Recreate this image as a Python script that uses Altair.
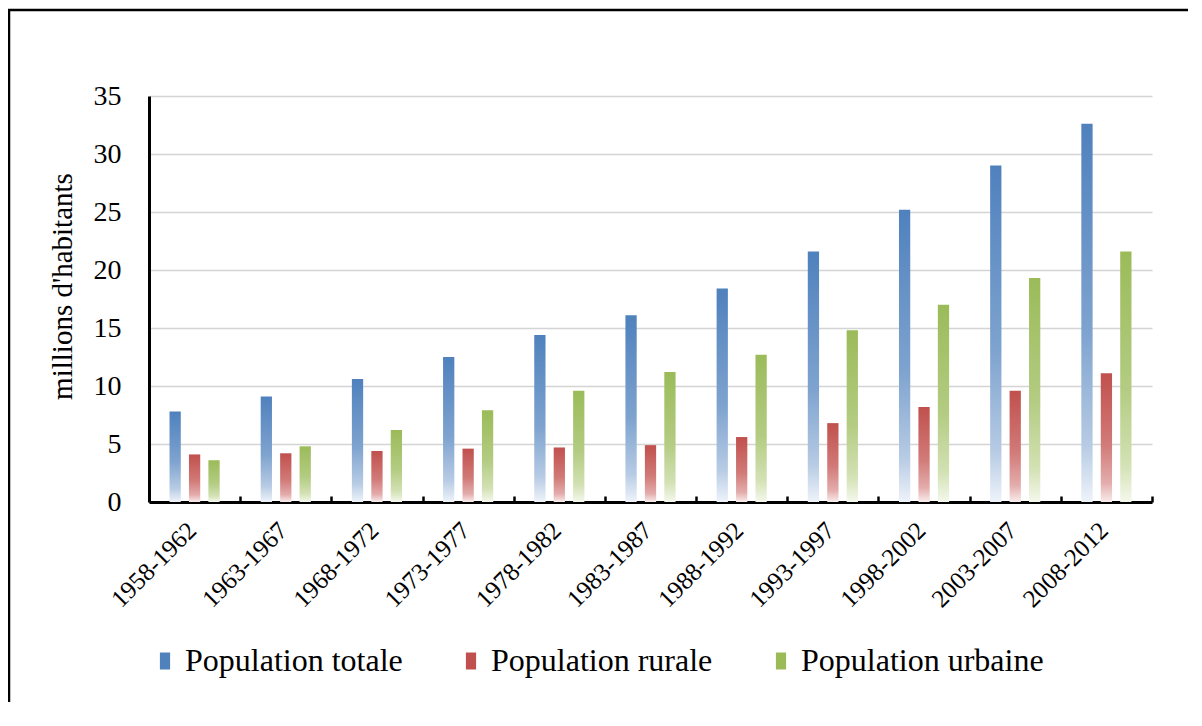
import altair as alt
import pandas as pd

periodes = ["1958-1962", "1963-1967", "1968-1972", "1973-1977", "1978-1982",
            "1983-1987", "1988-1992", "1993-1997", "1998-2002", "2003-2007", "2008-2012"]
pop_totale = [7.8, 9.1, 10.6, 12.5, 14.4, 16.1, 18.4, 21.6, 25.2, 29.0, 32.6]
pop_rurale = [4.1, 4.2, 4.4, 4.6, 4.7, 4.9, 5.6, 6.8, 8.2, 9.6, 11.1]
pop_urbaine = [3.6, 4.8, 6.2, 7.9, 9.6, 11.2, 12.7, 14.8, 17.0, 19.3, 21.6]
series = ["Population totale", "Population rurale", "Population urbaine"]
couleurs = ["#4f81bd", "#c0504d", "#9bbb59"]
y_ticks = [0, 5, 10, 15, 20, 25, 30, 35]

gradient_stops = {
    "Population totale": ["#4f81bd", "#7ea3cf", "#b7cbe4", "#eef3fa"],
    "Population rurale": ["#c0504d", "#d17a78", "#e3acab", "#f9ecec"],
    "Population urbaine": ["#9bbb59", "#b3cc82", "#d3e1b4", "#f4f8ec"],
}
stop_offsets = [0, 0.55, 0.85, 1]

rows = []
for name, vals in zip(series, [pop_totale, pop_rurale, pop_urbaine]):
    for p, v in zip(periodes, vals):
        rows.append({"periode": p, "serie": name, "valeur": v})
df = pd.DataFrame(rows)

FONT = "Liberation Serif"
W, H = 1003, 406
STEP = W / len(periodes)

x_scale = alt.Scale(domain=periodes, paddingInner=0.45, paddingOuter=0.225)
xo = alt.XOffset("serie:N", scale=alt.Scale(domain=series, paddingInner=0.42, paddingOuter=0))
y_axis = alt.Axis(values=y_ticks, title="millions d'habitants", titleFont=FONT, titleFontSize=29,
                  titleFontWeight="normal", titleColor="black", titlePadding=16, titleY=190,
                  labelFont=FONT, labelFontSize=28, labelColor="black", labelPadding=28,
                  ticks=False, tickSize=0, domainColor="black", domainWidth=3,
                  grid=True, gridColor="#d4d4d4", gridWidth=1.5)
y_enc = alt.Y("valeur:Q", scale=alt.Scale(domain=[0, 35]), axis=y_axis)

x_enc = alt.X("periode:N", sort=periodes, scale=x_scale,
              axis=alt.Axis(orient="bottom", title=None, labelAngle=-45, labelAlign="right",
                            labelBaseline="middle", labelFont=FONT, labelFontSize=25,
                            labelColor="black", labelPadding=30,
                            labelOffset=-STEP / 2 - 3,
                            ticks=True, tickSize=alt.ExprRef("-6"), tickOffset=STEP / 2,
                            tickColor="black", tickWidth=2.5,
                            domainColor="black", domainWidth=3, grid=False))

legend = alt.Legend(orient="none", legendX=0, legendY=549, direction="horizontal", columns=3,
                    columnPadding=52, title=None, symbolType="M-0.6,-1L0.6,-1L0.6,1L-0.6,1Z",
                    symbolSize=289, symbolStrokeWidth=0, labelFont=FONT, labelFontSize=32,
                    labelColor="black", labelOffset=4, labelLimit=500, padding=0)

legend_layer = alt.Chart(df).mark_bar().encode(
    x=x_enc, xOffset=xo, y=y_enc, y2=alt.Y2("valeur"),
    color=alt.Color("serie:N", scale=alt.Scale(domain=series, range=couleurs), legend=legend),
)

layers = [legend_layer]
for name in series:
    grad = alt.Gradient(
        gradient="linear", x1=0, x2=0, y1=0, y2=1,
        stops=[alt.GradientStop(offset=o, color=c) for o, c in zip(stop_offsets, gradient_stops[name])],
    )
    layers.append(
        alt.Chart(df).transform_filter(alt.datum.serie == name).mark_bar(color=grad).encode(
            x=x_enc, xOffset=xo, y=y_enc,
        )
    )

frame_data = alt.Data(values=[{"k": 1}])
frame_v = alt.Chart(frame_data).mark_rule(color="black", strokeWidth=2.5).encode(
    x=alt.value(-140), y=alt.value(-86), y2=alt.value(700))
frame_h = alt.Chart(frame_data).mark_rule(color="black", strokeWidth=2.5).encode(
    x=alt.value(-141), x2=alt.value(1100), y=alt.value(-86))
layers += [frame_v, frame_h]

chart = alt.layer(*layers).properties(
    width=W, height=H,
    padding={"left": 141, "top": 88, "right": 36, "bottom": 200},
    autosize=alt.AutoSizeParams(type="none"),
).configure(font=FONT, background="white").configure_view(stroke=None)

chart.save("out.html", embed_options={"renderer": "svg", "actions": False})
